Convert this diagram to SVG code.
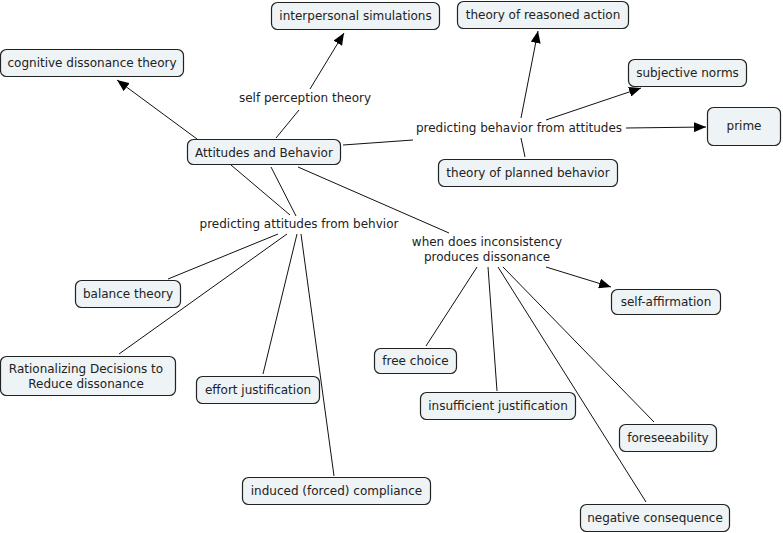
<svg xmlns="http://www.w3.org/2000/svg" width="783" height="533" viewBox="0 0 783 533">
<defs>
<style>
.box{fill:#eef3f5;stroke:#222;stroke-width:1.2}
text{font-family:"DejaVu Sans",Verdana,sans-serif;font-size:12px;fill:#222;text-anchor:middle}
.c line{stroke:#111;stroke-width:1}
</style>
<marker id="ah" viewBox="0 0 12 10" refX="12" refY="5" markerWidth="12" markerHeight="10" markerUnits="userSpaceOnUse" orient="auto">
<path d="M0,0L12,5L0,10Z" fill="#000"/>
</marker>
</defs>
<rect width="783" height="533" fill="#fff"/>
<g class="c" id="connectors">
<line x1="197" y1="139" x2="117" y2="80" marker-end="url(#ah)"/>
<line x1="276" y1="138" x2="299" y2="110"/>
<line x1="310" y1="89" x2="344" y2="33" marker-end="url(#ah)"/>
<line x1="343" y1="145" x2="413" y2="140"/>
<line x1="521" y1="118" x2="538" y2="31" marker-end="url(#ah)"/>
<line x1="546" y1="120" x2="641" y2="88" marker-end="url(#ah)"/>
<line x1="626" y1="128" x2="706" y2="127" marker-end="url(#ah)"/>
<line x1="521" y1="138" x2="525" y2="157"/>
<line x1="231" y1="165" x2="290" y2="215"/>
<line x1="271" y1="167" x2="296" y2="216"/>
<line x1="298" y1="167" x2="449" y2="233"/>
<line x1="278" y1="234" x2="168" y2="279"/>
<line x1="287" y1="234" x2="119" y2="354"/>
<line x1="297" y1="234" x2="263" y2="374"/>
<line x1="301" y1="234" x2="334" y2="476"/>
<line x1="477" y1="267" x2="426" y2="346"/>
<line x1="488" y1="267" x2="497" y2="391"/>
<line x1="498" y1="267" x2="646" y2="502"/>
<line x1="503" y1="267" x2="654" y2="422"/>
<line x1="546" y1="267" x2="611" y2="287" marker-end="url(#ah)"/>
</g>
<g id="n-interpersonal"><rect class="box" x="271.5" y="2.5" width="168" height="27" rx="6"/><text x="355.5" y="20">interpersonal simulations</text></g>
<g id="n-reasoned"><rect class="box" x="457.5" y="1.5" width="171" height="27" rx="6"/><text x="543" y="19">theory of reasoned action</text></g>
<g id="n-cognitive"><rect class="box" x="0.5" y="49.5" width="183" height="27" rx="6"/><text x="92" y="67">cognitive dissonance theory</text></g>
<g id="n-subjective"><rect class="box" x="628.5" y="59.5" width="118" height="27" rx="6"/><text x="687.5" y="77">subjective norms</text></g>
<g id="n-prime"><rect class="box" x="707.5" y="107.5" width="73" height="38" rx="6"/><text x="744" y="130">prime</text></g>
<g id="n-attitudes"><rect class="box" x="187.5" y="139.5" width="153" height="25" rx="6"/><text x="264" y="157">Attitudes and Behavior</text></g>
<g id="n-planned"><rect class="box" x="438.5" y="159.5" width="179" height="27" rx="6"/><text x="528" y="177">theory of planned behavior</text></g>
<g id="n-balance"><rect class="box" x="75.5" y="280.5" width="105" height="27" rx="6"/><text x="128" y="298">balance theory</text></g>
<g id="n-rationalizing"><rect class="box" x="0.5" y="356.5" width="175" height="39" rx="6"/><text x="86" y="373">Rationalizing Decisions to</text><text x="86" y="388">Reduce dissonance</text></g>
<g id="n-effort"><rect class="box" x="196.5" y="376.5" width="123" height="27" rx="6"/><text x="258" y="394">effort justification</text></g>
<g id="n-free"><rect class="box" x="374.5" y="348.5" width="82" height="25" rx="6"/><text x="415.5" y="365">free choice</text></g>
<g id="n-insufficient"><rect class="box" x="420.5" y="392.5" width="155" height="27" rx="6"/><text x="498" y="410">insufficient justification</text></g>
<g id="n-selfaff"><rect class="box" x="611.5" y="289.5" width="109" height="25" rx="6"/><text x="666" y="306">self-affirmation</text></g>
<g id="n-foresee"><rect class="box" x="619.5" y="424.5" width="97" height="27" rx="6"/><text x="668" y="442">foreseeability</text></g>
<g id="n-negative"><rect class="box" x="580.5" y="504.5" width="149" height="27" rx="6"/><text x="655" y="522">negative consequence</text></g>
<g id="n-induced"><rect class="box" x="242.5" y="477.5" width="188" height="27" rx="6"/><text x="336.5" y="495">induced (forced) compliance</text></g>
<g id="l-selfperception"><text x="305" y="102">self perception theory</text></g>
<g id="l-predbehavior"><text x="519" y="132">predicting behavior from attitudes</text></g>
<g id="l-predattitudes"><text x="299" y="228">predicting attitudes from behvior</text></g>
<g id="l-whendoes"><text x="487" y="246">when does inconsistency</text><text x="487" y="261">produces dissonance</text></g>
</svg>
